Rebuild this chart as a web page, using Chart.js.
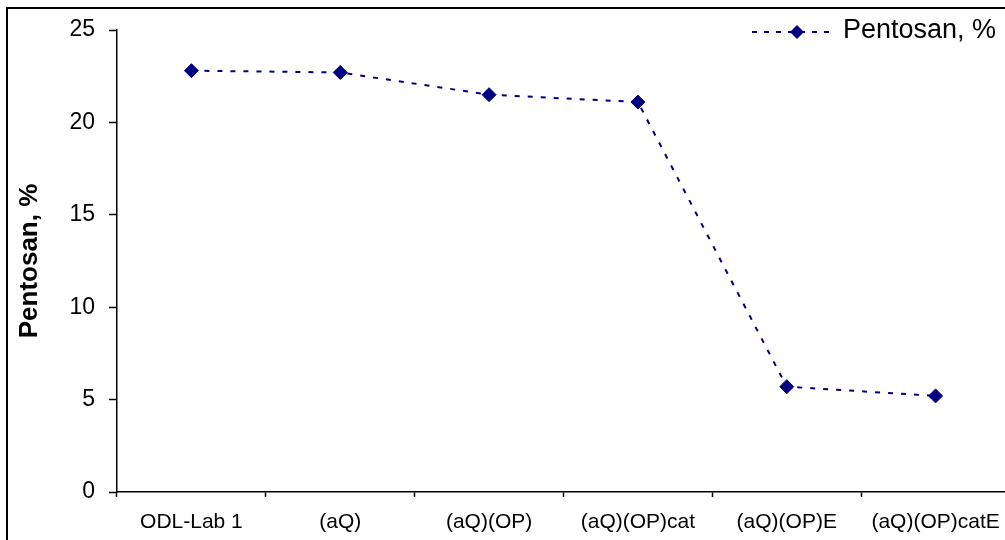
<!DOCTYPE html>
<html>
<head>
<meta charset="utf-8">
<script src="https://cdn.jsdelivr.net/npm/chart.js@4.4.1/dist/chart.umd.min.js"></script>
<style>
  html, body { margin: 0; padding: 0; background: #fff; overflow: hidden; }
  #wrap { width: 1020px; height: 540px; position: relative; }
</style>
</head>
<body>
<div id="wrap"><canvas id="pentosanChart"></canvas></div>
<script>
// categories (bleaching stages) and pentosan content
const stages = ["ODL-Lab 1", "(aQ)", "(aQ)(OP)", "(aQ)(OP)cat", "(aQ)(OP)E", "(aQ)(OP)catE"];
const pentosan = [22.8, 22.7, 21.5, 21.1, 5.7, 5.2];
const yTicks = [0, 5, 10, 15, 20, 25];
const seriesName = "Pentosan, %";

const navy = "#000080";
const fontFamily = "'Liberation Sans', Arial, sans-serif";

// outer frame + legend drawn by hand (line + diamond sample like the original)
const framePlugin = {
  id: "frameAndLegend",
  afterDraw(chart) {
    const ctx = chart.ctx;
    ctx.save();
    ctx.strokeStyle = "#000";
    ctx.lineWidth = 2;
    ctx.strokeRect(7, 8, 1100, 700);

    // legend sample
    const ly = 32;
    ctx.strokeStyle = navy;
    ctx.lineWidth = 2;
    ctx.setLineDash([5, 7]);
    ctx.beginPath();
    ctx.moveTo(752, ly);
    ctx.lineTo(834, ly);
    ctx.stroke();
    ctx.setLineDash([]);
    ctx.fillStyle = navy;
    ctx.beginPath();
    ctx.moveTo(797, ly - 7);
    ctx.lineTo(804, ly);
    ctx.lineTo(797, ly + 7);
    ctx.lineTo(790, ly);
    ctx.closePath();
    ctx.fill();

    ctx.fillStyle = "#000";
    ctx.font = "27px " + fontFamily;
    ctx.textBaseline = "middle";
    ctx.textAlign = "left";
    ctx.fillText(seriesName, 843, 31);
    ctx.restore();
  }
};

const config = {
  type: "line",
  data: {
    labels: stages,
    datasets: [{
      label: seriesName,
      data: pentosan,
      borderColor: navy,
      backgroundColor: navy,
      borderWidth: 2,
      borderDash: [5, 8],
      fill: false,
      tension: 0,
      pointStyle: "rectRot",
      pointRadius: 7,
      pointHoverRadius: 7,
      pointBorderWidth: 1,
      pointBackgroundColor: navy,
      pointBorderColor: navy
    }]
  },
  options: {
    responsive: true,
    maintainAspectRatio: false,
    animation: false,
    layout: { padding: { left: 0, top: 30, right: 10, bottom: 0 } },
    scales: {
      x: {
        type: "category",
        offset: true,
        grid: {
          offset: true,
          drawOnChartArea: false,
          drawTicks: true,
          tickLength: 5,
          tickWidth: 1.5,
          tickColor: "#000"
        },
        border: { display: true, color: "#000", width: 1.5 },
        ticks: {
          color: "#000",
          padding: 13,
          maxRotation: 0,
          autoSkip: false,
          font: { family: fontFamily, size: 21 }
        },
        afterFit(scale) { scale.height = 48; }
      },
      y: {
        min: 0,
        max: 25,
        afterBuildTicks(scale) {
          scale.ticks = yTicks.map(v => ({ value: v }));
        },
        grid: {
          drawOnChartArea: false,
          drawTicks: true,
          tickLength: 8,
          tickWidth: 1.5,
          tickColor: "#000"
        },
        border: { display: true, color: "#000", width: 1.5 },
        ticks: {
          color: "#000",
          padding: 14,
          font: { family: fontFamily, size: 23 }
        },
        title: {
          display: true,
          text: seriesName,
          color: "#000",
          padding: { top: 14, bottom: 0 },
          font: { family: fontFamily, size: 26, weight: "bold" }
        },
        afterFit(scale) { scale.width = 117; }
      }
    },
    plugins: {
      legend: { display: false },
      tooltip: { enabled: false }
    }
  },
  plugins: [framePlugin]
};

new Chart(document.getElementById("pentosanChart"), config);
</script>
</body>
</html>
